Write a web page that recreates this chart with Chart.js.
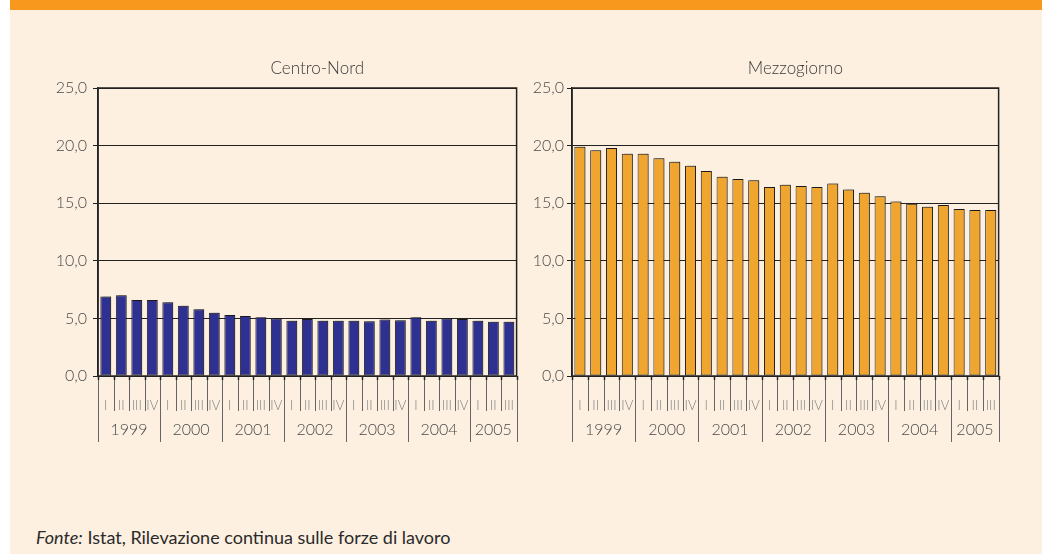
<!DOCTYPE html>
<html>
<head>
<meta charset="utf-8">
<script src="https://cdn.jsdelivr.net/npm/chart.js@4.4.1/dist/chart.umd.min.js"></script>
<style>
  html, body { margin: 0; padding: 0; background: #ffffff; }
  #page { position: relative; width: 1042px; height: 554px; overflow: hidden; background: #ffffff; }
  #panel { position: absolute; left: 10px; top: 0; width: 1032px; height: 554px; background: #FDF0E1; }
  #bar { position: absolute; left: 10px; top: 0; width: 1032px; height: 10px; background: #F8981D; }
  .cv { position: absolute; top: 10px; height: 460px; }
  #c1 { left: 10px; width: 518px; }
  #c2 { left: 525px; width: 485px; }
  #note { position: absolute; left: 36px; top: 526px; font-family: Lato, "Open Sans", sans-serif; font-size: 18px; font-weight: 400; color: #2a2a2a; white-space: nowrap; }
</style>
</head>
<body>
<div id="page">
  <div id="panel"></div>
  <div id="bar"></div>
  <canvas id="c1" class="cv" width="518" height="460"></canvas>
  <canvas id="c2" class="cv" width="485" height="460"></canvas>
  <div id="note"><i>Fonte:</i> Istat, Rilevazione continua sulle forze di lavoro</div>
</div>
<script>
const quarters = ['I','II','III','IV','I','II','III','IV','I','II','III','IV','I','II','III','IV','I','II','III','IV','I','II','III','IV','I','II','III'];
const years = ['1999','2000','2001','2002','2003','2004','2005'];
const quartersPerYear = [4,4,4,4,4,4,3];
const centroNord = [6.9,7.0,6.6,6.6,6.4,6.1,5.8,5.5,5.3,5.2,5.1,5.0,4.8,4.95,4.8,4.8,4.8,4.75,4.9,4.85,5.1,4.8,5.0,4.95,4.8,4.7,4.7];
const mezzogiorno = [19.9,19.6,19.8,19.3,19.3,18.9,18.6,18.25,17.8,17.3,17.1,17.0,16.4,16.6,16.5,16.4,16.7,16.2,15.9,15.6,15.15,14.95,14.7,14.85,14.5,14.4,14.4];
const yTickValues = [0,5,10,15,20,25];
const titles = ['Centro-Nord','Mezzogiorno'];

const FONT = 'Lato, "Open Sans", sans-serif';

const decor = {
  id: 'decor',
  beforeDatasetsDraw(chart) {
    const ctx = chart.ctx;
    ctx.save();
    ctx.shadowColor = 'rgba(0,0,0,0.28)';
    ctx.shadowOffsetX = 2;
    ctx.shadowOffsetY = -1;
    ctx.shadowBlur = 0;
  },
  afterDatasetsDraw(chart) {
    chart.ctx.restore();
  },
  afterDraw(chart) {
    const ctx = chart.ctx;
    const a = chart.chartArea;
    const xs = chart.scales.x;
    const n = quarters.length;
    const step = xs.getPixelForValue(1) - xs.getPixelForValue(0);
    const bounds = [];
    for (let i = 0; i < n; i++) bounds.push(xs.getPixelForValue(i) - step / 2);
    bounds.push(a.right);
    const yearIdx = [0];
    quartersPerYear.forEach(q => yearIdx.push(yearIdx[yearIdx.length - 1] + q));
    ctx.save();
    ctx.strokeStyle = '#222';
    ctx.lineWidth = 1.5;
    ctx.strokeRect(a.left, a.top, a.right - a.left, a.bottom - a.top);
    for (let i = 0; i <= n; i++) {
      const x = Math.round(bounds[i]) + 0.5;
      const isYear = yearIdx.includes(i);
      ctx.strokeStyle = '#222';
      ctx.lineWidth = 1.5;
      ctx.beginPath(); ctx.moveTo(x, a.bottom); ctx.lineTo(x, a.bottom + 4); ctx.stroke();
      ctx.strokeStyle = '#666';
      ctx.lineWidth = 1;
      ctx.beginPath(); ctx.moveTo(x, a.bottom + 4); ctx.lineTo(x, a.bottom + (isYear ? 66 : 35)); ctx.stroke();
    }
    ctx.fillStyle = '#4a4a4a';
    ctx.font = '300 16px ' + FONT;
    ctx.textAlign = 'center';
    ctx.textBaseline = 'middle';
    for (let k = 0; k < years.length; k++) {
      const x0 = bounds[yearIdx[k]], x1 = bounds[yearIdx[k + 1]];
      ctx.fillText(years[k], (x0 + x1) / 2, a.bottom + 54);
    }
    ctx.fillStyle = '#3a3a3a';
    ctx.font = '300 17px ' + FONT;
    ctx.fillText(chart.options.plugins.panelTitle.text, (a.left + a.right) / 2 + 10, 59);
    ctx.restore();
  }
};

function makeChart(id, data, color, title, yWidth, padRight, tickPad) {
  return new Chart(document.getElementById(id), {
    type: 'bar',
    data: {
      labels: quarters,
      datasets: [{
        data: data,
        backgroundColor: color,
        borderColor: '#222',
        borderWidth: 1,
        borderSkipped: false,
        categoryPercentage: 1.0,
        barPercentage: 0.7
      }]
    },
    options: {
      responsive: false,
      animation: false,
      devicePixelRatio: 1,
      layout: { padding: { top: 78, right: padRight, left: 0, bottom: 0 } },
      plugins: {
        legend: { display: false },
        tooltip: { enabled: false },
        title: { display: false },
        panelTitle: { text: title }
      },
      scales: {
        x: {
          grid: { display: false },
          border: { display: false },
          ticks: {
            autoSkip: false,
            maxRotation: 0,
            padding: 14,
            color: '#808080',
            font: { family: FONT, size: 13, weight: 300 }
          },
          afterFit: s => { s.height = 94; }
        },
        y: {
          min: 0,
          max: 25,
          afterBuildTicks: s => { s.ticks = yTickValues.map(v => ({ value: v })); },
          grid: { color: '#222', lineWidth: 1, tickLength: 5, drawTicks: true },
          border: { display: true, color: '#222', width: 1.5 },
          ticks: {
            padding: tickPad,
            color: '#4a4a4a',
            font: { family: FONT, size: 16, weight: 300 },
            callback: v => v.toFixed(1).replace('.', ',')
          },
          afterFit: s => { s.width = yWidth; }
        }
      }
    },
    plugins: [decor]
  });
}

makeChart('c1', centroNord, '#2E3192', titles[0], 88, 4, 6);
makeChart('c2', mezzogiorno, '#F0A52E', titles[1], 47, 11, 3);
</script>
</body>
</html>
